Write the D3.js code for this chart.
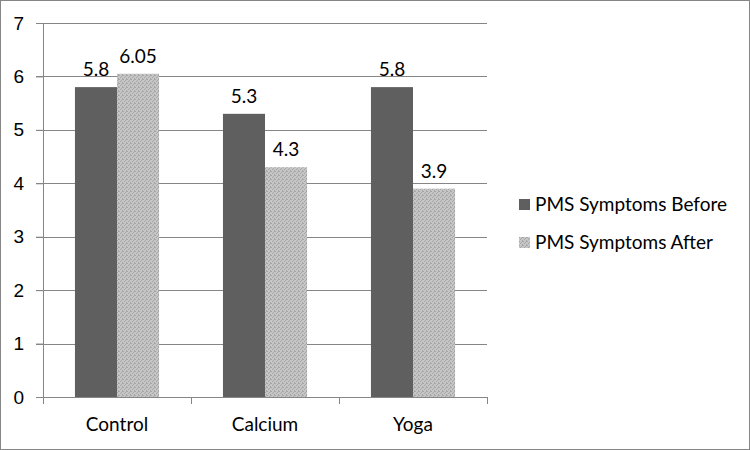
<!DOCTYPE html>
<html lang="en">
<head>
<meta charset="utf-8">
<script src="https://d3js.org/d3.v7.min.js"></script>
<style>
  body { margin: 0; background: #fff; }
  svg { display: block; font-family: Lato, "Open Sans", sans-serif; }
</style>
</head>
<body>
<svg id="chart" width="750" height="450"></svg>
<script>
  var categories = ['Control', 'Calcium', 'Yoga'];
  var seriesNames = ['PMS Symptoms Before', 'PMS Symptoms After'];
  var beforeValues = [5.8, 5.3, 5.8];
  var afterValues = [6.05, 4.3, 3.9];
  var beforeLabels = ['5.8', '5.3', '5.8'];
  var afterLabels = ['6.05', '4.3', '3.9'];
  var yTicks = [0, 1, 2, 3, 4, 5, 6, 7];

  var svg = d3.select('#chart');
  var margin = { top: 23, left: 43, right: 263, bottom: 53 };
  var width = 750 - margin.left - margin.right,
      height = 450 - margin.top - margin.bottom;

  // outer frame
  svg.append('rect')
    .attr('x', 0.5).attr('y', 0.5)
    .attr('width', 749).attr('height', 449)
    .attr('fill', '#fff').attr('stroke', '#868686');

  // speckled texture for the "after" bars
  var pat = svg.append('defs').append('pattern')
    .attr('id', 'dots')
    .attr('width', 4).attr('height', 4)
    .attr('patternUnits', 'userSpaceOnUse');
  pat.append('rect').attr('width', 4).attr('height', 4).attr('fill', '#c6c6c6');
  [[0, 0], [2, 1], [1, 2], [3, 3], [3, 0]].forEach(function(p) {
    pat.append('rect').attr('x', p[0]).attr('y', p[1]).attr('width', 1).attr('height', 1).attr('fill', '#a6a6a6');
  });

  var g = svg.append('g')
    .attr('transform', 'translate(' + margin.left + ',' + margin.top + ')');

  var x = d3.scaleBand().domain(categories).range([0, width]).paddingInner(0).paddingOuter(0);
  var y = d3.scaleLinear().domain([0, 7]).range([height, 0]);
  var inner = d3.scaleBand().domain(seriesNames).range([0, x.bandwidth()]).paddingInner(0).paddingOuter(0.76);

  // gridlines
  g.append('g').selectAll('line')
    .data(yTicks.slice(1))
    .enter().append('line')
    .attr('x1', -7).attr('x2', width)
    .attr('y1', d => Math.round(y(d)) + 0.5).attr('y2', d => Math.round(y(d)) + 0.5)
    .attr('stroke', '#868686');

  // y axis
  var yAxis = d3.axisLeft(y).tickValues(yTicks).tickFormat(d3.format('d'))
    .tickSize(7).tickSizeOuter(0).tickPadding(12);
  var gy = g.append('g').call(yAxis);
  gy.select('.domain').attr('stroke', '#868686');
  gy.selectAll('.tick line').attr('stroke', '#868686');
  gy.selectAll('.tick text').attr('font-size', 19).attr('fill', '#000');

  var data = categories.map(function(c, i) {
    return [
      { cat: c, s: seriesNames[0], v: beforeValues[i], label: beforeLabels[i] },
      { cat: c, s: seriesNames[1], v: afterValues[i], label: afterLabels[i] }
    ];
  });

  var groups = g.selectAll('.grp').data(data).enter().append('g')
    .attr('transform', d => 'translate(' + x(d[0].cat) + ',0)');

  groups.selectAll('rect').data(d => d).enter().append('rect')
    .attr('x', d => inner(d.s))
    .attr('y', d => y(d.v))
    .attr('width', inner.bandwidth())
    .attr('height', d => height - y(d.v))
    .attr('fill', d => d.s === seriesNames[0] ? '#5f5f5f' : 'url(#dots)');

  groups.selectAll('text').data(d => d).enter().append('text')
    .attr('x', d => inner(d.s) + inner.bandwidth() / 2)
    .attr('y', d => y(d.v) - 11)
    .attr('text-anchor', 'middle')
    .attr('font-size', 19)
    .text(d => d.label);

  // x axis
  var gx = g.append('g').attr('transform', 'translate(0,' + height + ')');
  gx.append('line').attr('x1', 0).attr('x2', width).attr('y1', 0.5).attr('y2', 0.5).attr('stroke', '#868686');
  gx.selectAll('.tk').data(d3.range(categories.length + 1)).enter().append('line')
    .attr('x1', d => Math.round(d * x.step()) + 0.5).attr('x2', d => Math.round(d * x.step()) + 0.5)
    .attr('y1', 0).attr('y2', 7)
    .attr('stroke', '#868686');
  gx.selectAll('text').data(categories).enter().append('text')
    .attr('x', d => x(d) + x.bandwidth() / 2)
    .attr('y', 34)
    .attr('text-anchor', 'middle')
    .attr('font-size', 19)
    .text(d => d);

  // legend
  var legend = svg.append('g').attr('transform', 'translate(519,199)');
  var items = legend.selectAll('g').data(seriesNames).enter().append('g')
    .attr('transform', (d, i) => 'translate(0,' + i * 38 + ')');
  items.append('rect')
    .attr('width', 11).attr('height', 11)
    .attr('fill', (d, i) => i === 0 ? '#5f5f5f' : 'url(#dots)');
  items.append('text')
    .attr('x', 16).attr('y', 12)
    .attr('font-size', 19)
    .text(d => d);
</script>
</body>
</html>
